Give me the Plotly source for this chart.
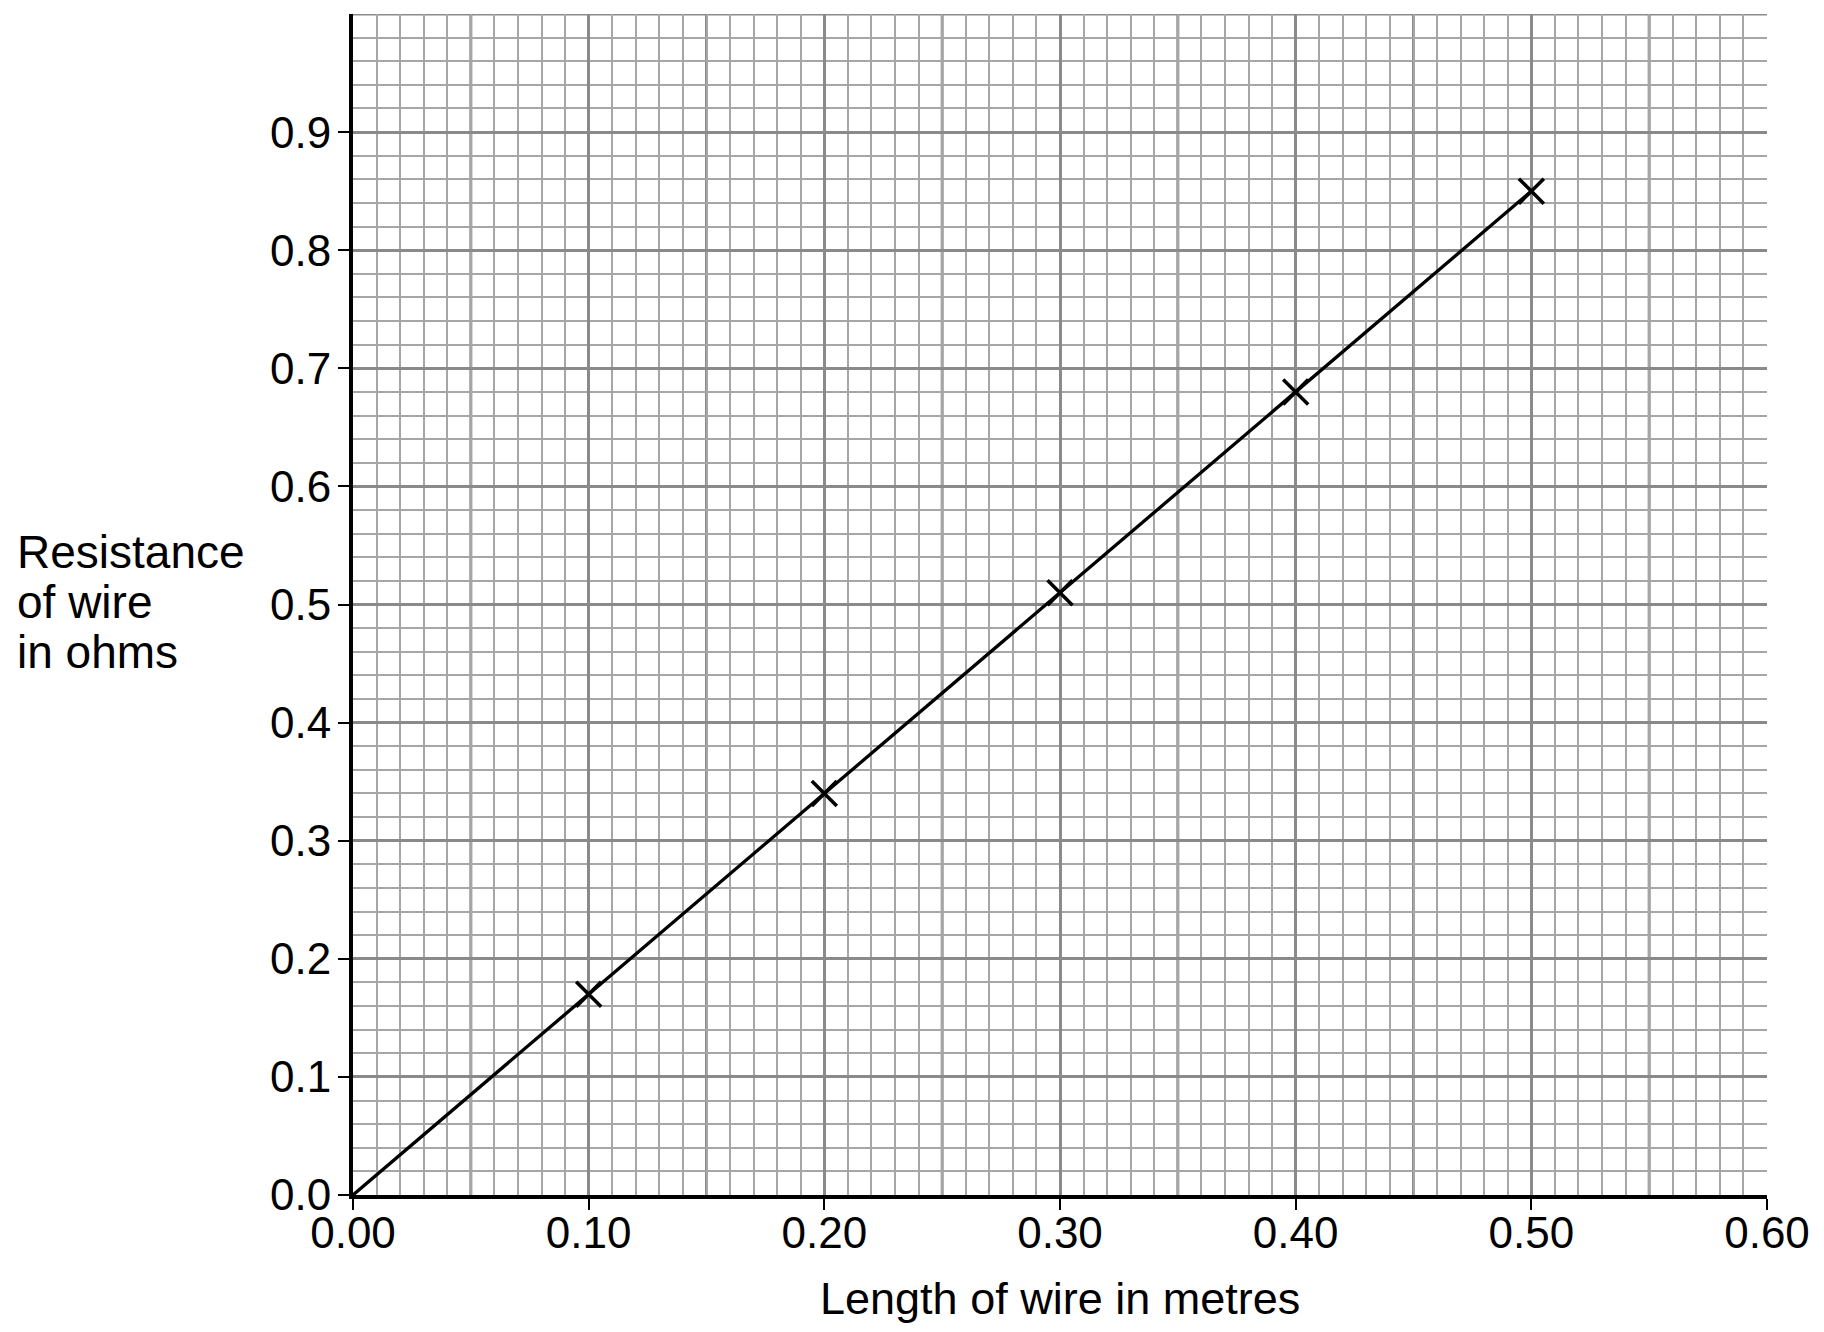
import plotly.graph_objects as go

# ---- data ----
length_m = [0.10, 0.20, 0.30, 0.40, 0.50]
resistance_ohm = [0.17, 0.34, 0.51, 0.68, 0.85]
fit_x = [0.00, 0.50]
fit_y = [0.00, 0.85]

x_tick_vals = [0.0, 0.1, 0.2, 0.3, 0.4, 0.5, 0.6]
x_tick_text = ["0.00", "0.10", "0.20", "0.30", "0.40", "0.50", "0.60"]
y_tick_vals = [0.0, 0.1, 0.2, 0.3, 0.4, 0.5, 0.6, 0.7, 0.8, 0.9]
y_tick_text = ["0.0", "0.1", "0.2", "0.3", "0.4", "0.5", "0.6", "0.7", "0.8", "0.9"]
x_half_lines = [0.05, 0.15, 0.25, 0.35, 0.45, 0.55]
y_top_line = [1.0]

x_title = "Length of wire in metres"
y_title_lines = ["Resistance", "of wire", "in ohms"]

# ---- layout constants ----
# page body has an 8px margin, so the figure is placed at (8, 8) on the page
OFF = 8
W, H = 1808, 1316
ML, MT = 353 - OFF, 14 - OFF
PW, PH = 1417, 1181
MR, MB = W - ML - PW, H - MT - PH
FONT = "Liberation Sans, Arial, sans-serif"
MAJOR = "#8a8a8a"
MINOR = "#a6a6a6"


def px_x(page_x):
    return (page_x - OFF - ML) / PW


def px_y(page_y):
    return (OFF + MT + PH - page_y) / PH


fig = go.Figure()

fig.add_trace(go.Scatter(
    x=fit_x, y=fit_y, mode="lines",
    line=dict(color="black", width=3.3),
    hoverinfo="skip", showlegend=False,
))
fig.add_trace(go.Scatter(
    x=length_m, y=resistance_ohm, mode="markers",
    marker=dict(symbol="x-thin-open", size=25, color="black",
                line=dict(color="black", width=3.5)),
    showlegend=False,
))

shapes = []
for xv in x_half_lines:
    shapes.append(dict(type="line", xref="x", yref="paper", x0=xv, x1=xv, y0=0, y1=1,
                       line=dict(color=MAJOR, width=3), layer="between"))
for yv in y_top_line:
    shapes.append(dict(type="line", xref="paper", yref="y", x0=0, x1=1, y0=yv, y1=yv,
                       line=dict(color=MAJOR, width=3), layer="between"))

annotations = [dict(
    text=x_title, xref="paper", yref="paper",
    x=px_x(1062), y=px_y(1298),
    xanchor="center", yanchor="middle", showarrow=False,
    font=dict(family=FONT, size=45, color="black"),
)]
for i, line in enumerate(y_title_lines):
    yc = 552 + i * 50
    annotations.append(dict(
        text=line, xref="paper", yref="paper",
        x=px_x(14), y=px_y(yc),
        xanchor="left", yanchor="middle", showarrow=False, align="left",
        font=dict(family=FONT, size=46, color="black"),
    ))

fig.update_layout(
    width=W, height=H,
    margin=dict(l=ML, r=MR, t=MT, b=MB, pad=0),
    paper_bgcolor="white", plot_bgcolor="white",
    font=dict(family=FONT, size=44, color="black"),
    shapes=shapes, annotations=annotations,
    showlegend=False,
)
fig.update_xaxes(
    range=[0, 0.6], tickmode="array", tickvals=x_tick_vals, ticktext=x_tick_text,
    ticks="outside", ticklen=11, tickwidth=2, tickcolor="black",
    ticklabelstandoff=-15,
    showline=True, linecolor="black", linewidth=4,
    showgrid=True, gridcolor=MAJOR, gridwidth=3,
    minor=dict(dtick=0.01, tick0=0, showgrid=True, gridcolor=MINOR, gridwidth=2, ticks=""),
    zeroline=False, tickfont=dict(family=FONT, size=44, color="black"),
)
fig.update_yaxes(
    range=[0, 1.0], tickmode="array", tickvals=y_tick_vals, ticktext=y_tick_text,
    ticks="outside", ticklen=11, tickwidth=2, tickcolor="black",
    ticklabelstandoff=-2,
    showline=True, linecolor="black", linewidth=4,
    showgrid=True, gridcolor=MAJOR, gridwidth=3,
    minor=dict(dtick=0.02, tick0=0, showgrid=True, gridcolor=MINOR, gridwidth=2, ticks=""),
    zeroline=False, tickfont=dict(family=FONT, size=44, color="black"),
)

fig.write_html("out.html")
